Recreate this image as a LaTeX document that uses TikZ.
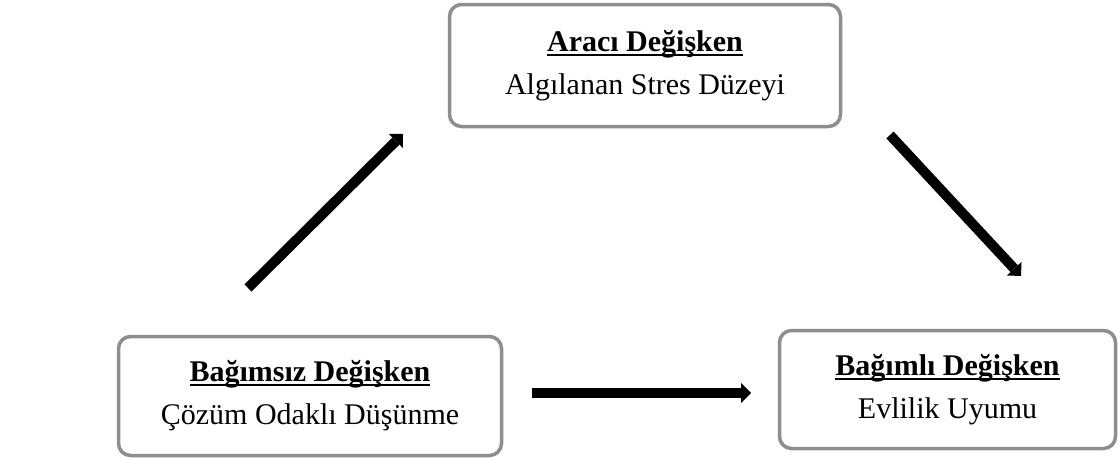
\documentclass[tikz,border=0pt]{standalone}
\usepackage{fontspec}
\setmainfont{Liberation Serif}
\usetikzlibrary{arrows.meta}
\definecolor{boxgray}{HTML}{8E8E8E}
\newcommand\myul[1]{\setbox0\hbox{#1}\rlap{\rule[-4.5pt]{\wd0}{2pt}}\box0}
\begin{document}
\begin{tikzpicture}[x=1pt,y=-1pt,
  varbox/.style={draw=boxgray, line width=3.5pt, rounded corners=12pt, fill=white,
    inner sep=0pt, align=center, font=\fontsize{30}{43}\selectfont},
  bigarrow/.style={line width=10pt, -{Triangle[length=10pt,width=20pt,line width=0pt]}}]
\useasboundingbox (0,0) rectangle (1119,458);

\node[varbox, minimum width=391pt, minimum height=122pt] (med) at (645,65.5)
  {\myul{\textbf{Aracı Değişken}}\\Algılanan Stres Düzeyi};
\node[varbox, minimum width=383pt, minimum height=119pt] (ind) at (310,396)
  {\myul{\textbf{Bağımsız Değişken}}\\Çözüm Odaklı Düşünme};
\node[varbox, minimum width=336pt, minimum height=118pt] (dep) at (947.5,389.5)
  {\myul{\textbf{Bağımlı Değişken}}\\Evlilik Uyumu};

\coordinate (a1s) at (248,288);
\coordinate (a1e) at (403,134);
\coordinate (a2s) at (890,135);
\coordinate (a2e) at (1021,276);
\coordinate (a3s) at (532,393);
\coordinate (a3e) at (751,393);

\draw[bigarrow] (a1s) -- (a1e);
\draw[bigarrow] (a2s) -- (a2e);
\draw[bigarrow] (a3s) -- (a3e);
\end{tikzpicture}
\end{document}
